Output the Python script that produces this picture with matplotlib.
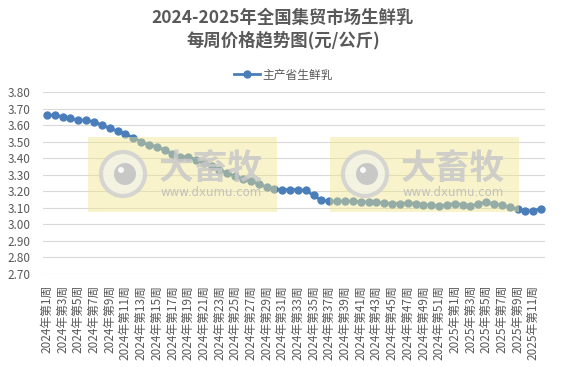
import matplotlib
matplotlib.use("Agg")
import matplotlib.pyplot as plt
from matplotlib.patches import Rectangle, Circle

plt.rcParams['font.family'] = ['Noto Sans CJK SC', 'DejaVu Sans']

# 周次标签
weeks_2024 = list(range(1, 53))
weeks_2025 = list(range(1, 13))
labels = ["2024年第%d周" % w for w in weeks_2024] + ["2025年第%d周" % w for w in weeks_2025]

# 主产省生鲜乳 周价格 (元/公斤)
prices = [3.66, 3.66, 3.65, 3.64, 3.63, 3.63, 3.62, 3.60, 3.58, 3.565,
          3.545, 3.525, 3.50, 3.48, 3.47, 3.45, 3.425, 3.41, 3.41, 3.39,
          3.37, 3.35, 3.33, 3.31, 3.29, 3.275, 3.26, 3.245, 3.225, 3.215,
          3.21, 3.21, 3.21, 3.205, 3.175, 3.145,
          3.14, 3.14, 3.14, 3.14, 3.135, 3.135, 3.135, 3.13, 3.125, 3.125,
          3.13, 3.125, 3.12, 3.115, 3.11, 3.12, 3.125, 3.12, 3.11, 3.125,
          3.135, 3.125, 3.115, 3.105, 3.09, 3.08, 3.083, 3.095]

series_name = "主产省生鲜乳"
yticks = [2.70, 2.80, 2.90, 3.00, 3.10, 3.20, 3.30, 3.40, 3.50, 3.60, 3.70, 3.80]

W, H = 566, 367
fig = plt.figure(figsize=(W / 100, H / 100), dpi=100)
ax = fig.add_axes([43 / W, 1 - 274 / H, (545 - 43) / W, (274 - 92) / H])

x = list(range(len(prices)))
line, = ax.plot(x, prices, color='#4a7ebb', lw=2, marker='o', ms=5,
                markerfacecolor='#4a7ebb', markeredgecolor='#4a7ebb', label=series_name, zorder=3)

ax.set_ylim(2.70, 3.80)
ax.set_yticks(yticks)
ax.set_yticklabels(["%.2f" % v for v in yticks])
ax.set_xlim(-0.5, len(prices) - 0.5)
ax.set_xticks(x[::2])
ax.set_xticklabels(labels[::2], rotation=90)

for s in ax.spines.values():
    s.set_visible(False)
ax.grid(axis='y', color='#d9d9d9', lw=0.8)
ax.set_axisbelow(True)
ax.tick_params(axis='both', length=0, colors='#595959', labelsize=8.5)
ax.tick_params(axis='y', pad=9)
ax.tick_params(axis='x', pad=8)

fig.text(0.5, 1 - 29 / H, "2024-2025年全国集贸市场生鲜乳\n每周价格趋势图(元/公斤)",
         ha='center', va='center', fontsize=12.5, fontweight='bold', color='#595959',
         linespacing=1.25)

fig.legend(handles=[line], loc='center', bbox_to_anchor=(0.5, 1 - 75 / H), frameon=False,
           fontsize=8.5, labelcolor='#595959', handlelength=2.2, handletextpad=0.2)

# 水印
for left in (88, 330):
    wax = fig.add_axes([left / W, 1 - 212 / H, 189 / W, 75 / H], zorder=5)
    wax.set_xlim(0, 189)
    wax.set_ylim(0, 75)
    wax.axis('off')
    wax.add_patch(Rectangle((0, 0), 189, 75, facecolor='#f0e68c', alpha=0.45, lw=0))
    wax.add_patch(Circle((35, 38), 22, facecolor='#f4f2e6', edgecolor='#d0d0d0', lw=3, alpha=0.85))
    wax.add_patch(Circle((37, 38), 11, facecolor='#c4c4c4', lw=0, alpha=0.9))
    wax.add_patch(Circle((33, 42), 3, facecolor='white', lw=0, alpha=0.9))
    wax.text(123, 44, "大畜牧", ha='center', va='center', fontsize=25, fontweight='bold',
             color='#c8c8c8', alpha=0.85)
    wax.text(123, 19, "www.dxumu.com", ha='center', va='center', fontsize=8.5,
             color='#bdbdbd', alpha=0.9, family=['DejaVu Sans'])

fig.savefig("out.png", dpi=100)
